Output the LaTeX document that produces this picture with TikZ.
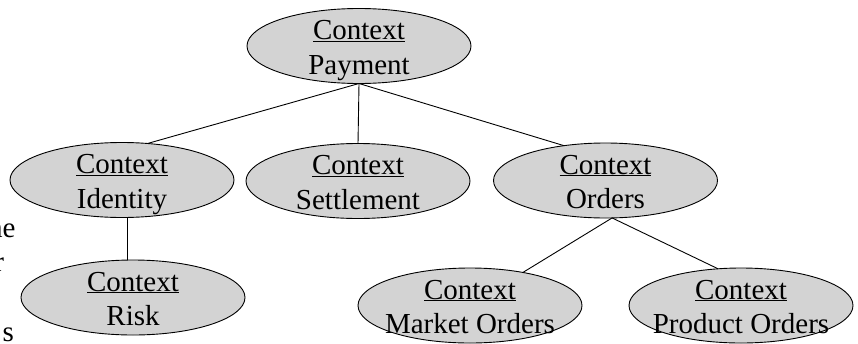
\documentclass[tikz,border=0pt]{standalone}
\usepackage{fontspec}
\setmainfont{Liberation Serif}
\usetikzlibrary{shapes.geometric}
\definecolor{ctxfill}{RGB}{211,211,211}
\tikzset{
  ctx/.style={ellipse, draw=black, line width=0.9pt, fill=ctxfill,
    minimum width=224pt, minimum height=75pt, inner sep=0pt, outer sep=0pt},
  lbl/.style={anchor=base, inner sep=0pt, outer sep=0pt,
    font=\fontsize{29}{34.5}\selectfont},
  frag/.style={anchor=base east, inner sep=0pt, outer sep=0pt,
    font=\fontsize{29}{34.5}\selectfont},
  conn/.style={draw=black, line width=0.9pt}
}
\begin{document}
\begin{tikzpicture}[x=1pt,y=-1pt]
\useasboundingbox (0,0) rectangle (858,343);
\clip (0,0) rectangle (858,343);
% ellipses
\node[ctx] (pay) at (359,46) {};
\node[ctx] (idn) at (122,180) {};
\node[ctx] (set) at (358,181) {};
\node[ctx] (ord) at (605.5,180.5) {};
\node[ctx] (risk) at (133,297.5) {};
\node[ctx] (mkt) at (470,305.5) {};
\node[ctx] (prd) at (741,305.5) {};
% connectors
\draw[conn] (pay.south) -- (idn.55.6);
\draw[conn] (pay.south) -- (set.north);
\draw[conn] (pay.south) -- (ord.140.4);
\draw[conn] (idn.-82) -- (idn.-82 |- risk.north);
\draw[conn] (ord.-80) -- (mkt.32);
\draw[conn] (ord.-80) -- (prd.122);
% labels
\foreach \n/\t in {pay/Payment, idn/Identity, set/Settlement, ord/Orders, risk/Risk, mkt/Market Orders, prd/Product Orders}{
  \node[lbl] (\n-c) at ([yshift=6.5pt]\n.center) {\underline{Context}};
  \node[lbl] (\n-t) at ([yshift=-28pt]\n.center) {\t};
}
% cut-off text at the left edge (as in the reference)
\node[frag] (f1) at (15.5,237) {he};
\node[frag] (f2) at (4,271) {r};
\node[frag] (f3) at (14,341) {s};
\end{tikzpicture}
\end{document}
